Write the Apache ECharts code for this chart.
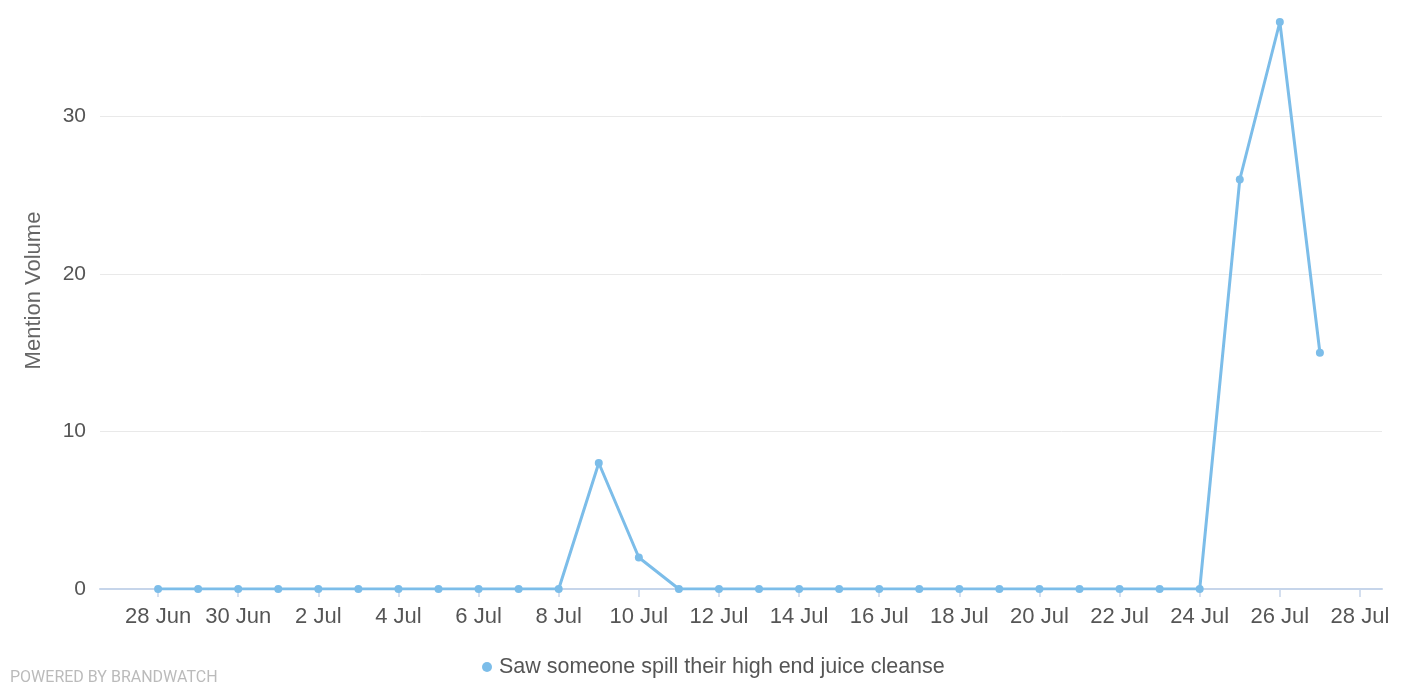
<!DOCTYPE html>
<html><head><meta charset="utf-8">
<script src="https://cdn.jsdelivr.net/npm/echarts@6/dist/echarts.min.js"></script>
<style>html,body{margin:0;padding:0;background:#fff}#c{width:1404px;height:692px}</style>
</head><body><div id="c"></div>
<script>
// Day offsets from 28 Jun, and their values
const dates = ['28 Jun','29 Jun','30 Jun','1 Jul','2 Jul','3 Jul','4 Jul','5 Jul','6 Jul','7 Jul','8 Jul','9 Jul','10 Jul','11 Jul','12 Jul','13 Jul','14 Jul','15 Jul','16 Jul','17 Jul','18 Jul','19 Jul','20 Jul','21 Jul','22 Jul','23 Jul','24 Jul','25 Jul','26 Jul','27 Jul'];
const values = [0,0,0,0,0,0,0,0,0,0,0,8,2,0,0,0,0,0,0,0,0,0,0,0,0,0,0,26,36,15];
const tickLabels = ['28 Jun','30 Jun','2 Jul','4 Jul','6 Jul','8 Jul','10 Jul','12 Jul','14 Jul','16 Jul','18 Jul','20 Jul','22 Jul','24 Jul','26 Jul','28 Jul'];
const seriesName = 'Saw someone spill their high end juice cleanse';
const yTitle = 'Mention Volume';

const tickPos = tickLabels.map((_, i) => i * 2);
const font = '"Liberation Sans", Arial, sans-serif';
const chart = echarts.init(document.getElementById('c'));
chart.setOption({
  animation: false,
  textStyle: {fontFamily: font},
  grid: {left: 100, right: 22, top: 22, bottom: 103, containLabel: false},
  xAxis: {
    type: 'value', min: -1.45, max: 30.55,
    axisLine: {lineStyle: {color: '#c6d5ea', width: 2}},
    axisTick: {show: true, length: 8, lineStyle: {color: '#c6d5ea', width: 1.5}, customValues: tickPos},
    splitLine: {show: false},
    axisLabel: {
      customValues: tickPos,
      color: '#555', fontSize: 22, margin: 17, fontFamily: font,
      formatter: v => tickLabels[Math.round(v) / 2] || ''
    }
  },
  yAxis: {
    type: 'value', min: 0, max: 36, interval: 10,
    name: yTitle, nameLocation: 'middle', nameGap: 55, nameRotate: 90,
    nameTextStyle: {color: '#666', fontSize: 22, fontFamily: font, padding: [0, 0, 0, 30]},
    axisLine: {show: false}, axisTick: {show: false},
    splitLine: {show: true, showMaxLine: false, lineStyle: {color: '#e9e9e9', width: 1}},
    axisLabel: {showMaxLabel: false, color: '#555', fontSize: 21, margin: 14, fontFamily: font, padding: [5, 0, 0, 0]}
  },
  legend: {
    left: 477, top: 651, icon: 'circle', itemWidth: 10, itemHeight: 10, itemGap: 8,
    textStyle: {color: '#555', fontSize: 21.5, fontFamily: font, padding: [0, 0, 0, 2]},
    data: [seriesName]
  },
  graphic: [{
    type: 'text', left: 10, top: 670,
    style: {text: 'POWERED BY BRANDWATCH', fill: '#bbbbbb', fontSize: 16, fontFamily: 'Roboto, sans-serif'}
  }],
  series: [{
    name: seriesName, type: 'line',
    data: values.map((v, i) => [i, v]),
    symbol: 'circle', symbolSize: 8, showSymbol: true,
    itemStyle: {color: '#7cbde9'},
    lineStyle: {color: '#7cbde9', width: 3},
    z: 5
  }]
});
</script>
</body></html>
